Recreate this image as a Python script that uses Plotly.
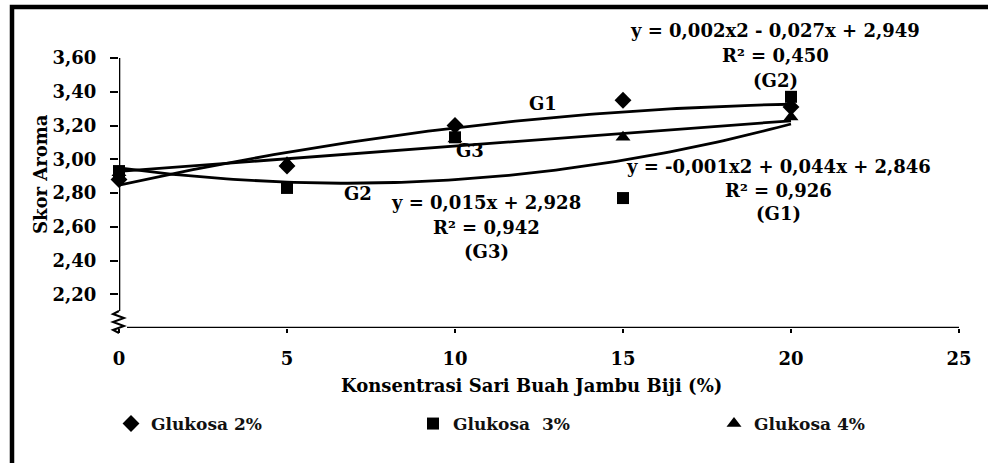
import numpy as np
import plotly.graph_objects as go

# Concentration of guava juice (%)
konsentrasi = [0, 5, 10, 15, 20]

# Aroma scores per glucose level
glukosa_2 = [2.88, 2.96, 3.20, 3.35, 3.31]
glukosa_3 = [2.93, 2.83, 3.13, 2.77, 3.37]
glukosa_4 = [2.92, 2.98, 3.12, 3.13, 3.25]

series_names = ["Glukosa 2%", "Glukosa  3%", "Glukosa 4%"]

# Trendline coefficients (highest power first) as stated on the chart
coef_g1 = [-0.001, 0.044, 2.846]
coef_g2 = [0.002, -0.027, 2.949]
coef_g3 = [0.015, 2.928]

x_ticks = [0, 5, 10, 15, 20, 25]
y_ticks = [2.2, 2.4, 2.6, 2.8, 3.0, 3.2, 3.4, 3.6]

W, H = 988, 463
ML, MR, MT, MB = 119, 29, 58, 135
PW, PH = W - ML - MR, H - MT - MB
XMIN, XMAX = 0, 25
YMIN, YMAX = 2.0, 3.6

FONT = "DejaVu Serif"
INK = "#000000"


def px_x(px):
    return (px - ML) / PW


def px_y(py):
    return (H - MB - py) / PH


def dx(px):
    return XMIN + (px - ML) / PW * (XMAX - XMIN)


def dy(py):
    return YMIN + (H - MB - py) / PH * (YMAX - YMIN)


fig = go.Figure()

# each series gets its own one-item legend so the entries can be spaced freely
markers = [
    (glukosa_2, "diamond", 13, "legend"),
    (glukosa_3, "square", 12, "legend2"),
    (glukosa_4, "triangle-up", 13, "legend3"),
]
for name, (vals, sym, size, leg) in zip(series_names, markers):
    fig.add_trace(go.Scatter(
        x=konsentrasi, y=vals, mode="markers", name=name, legend=leg,
        marker=dict(symbol=sym, size=size, color=INK, line=dict(width=0)),
        cliponaxis=False,
    ))

xs = np.linspace(konsentrasi[0], konsentrasi[-1], 101)
for coef in (coef_g1, coef_g2, coef_g3):
    fig.add_trace(go.Scatter(
        x=xs, y=np.polyval(coef, xs), mode="lines", showlegend=False,
        line=dict(color=INK, width=2.8), hoverinfo="skip", cliponaxis=False,
    ))

annotations = []


def label(text, cx, cy, size=18):
    annotations.append(dict(
        x=px_x(cx), y=px_y(cy), xref="paper", yref="paper", text=text,
        showarrow=False, xanchor="center", yanchor="middle",
        font=dict(family=FONT, size=size, color=INK, weight="bold"),
    ))


# equation blocks
label("y = 0,002x2 - 0,027x + 2,949", 775, 30)
label("R² = 0,450", 775, 55)
label("(G2)", 775, 80)

label("y = -0,001x2 + 0,044x + 2,846", 778, 166)
label("R² = 0,926", 778, 190)
label("(G1)", 778, 213)

label("y = 0,015x + 2,928", 486, 203)
label("R² = 0,942", 486, 227)
label("(G3)", 486, 251)

# curve names
label("G1", 543, 103)
label("G3", 470, 150)
label("G2", 358, 193)

# y-axis title
annotations.append(dict(
    x=px_x(40), y=px_y(174), xref="paper", yref="paper", text="Skor Aroma",
    showarrow=False, textangle=-90, xanchor="center", yanchor="middle",
    font=dict(family=FONT, size=18, color=INK, weight="bold"),
))
# x-axis title
annotations.append(dict(
    x=px_x(531), y=px_y(385), xref="paper", yref="paper",
    text="Konsentrasi Sari Buah Jambu Biji (%)",
    showarrow=False, xanchor="center", yanchor="middle",
    font=dict(family=FONT, size=18, color=INK, weight="bold"),
))

# axis break zigzag, pixel points converted to paper units
zig_px = [(119, 311), (113, 314), (124, 318), (113, 322), (124, 326), (113, 330), (119, 333)]
zig_path = "M " + " L ".join(f"{px_x(a):.5f} {px_y(b):.5f}" for a, b in zig_px)

shapes = [
    # outer frame
    dict(type="rect", xref="paper", yref="paper",
         x0=px_x(12), x1=px_x(1000), y0=px_y(7), y1=px_y(480),
         line=dict(color=INK, width=4.5), fillcolor="rgba(0,0,0,0)", layer="below"),
    # y-axis line down to the break
    dict(type="line", xref="x", yref="y", x0=0, x1=0, y0=YMAX, y1=dy(311),
         line=dict(color=INK, width=2.6)),
    # x-axis line starting after the break
    dict(type="line", xref="x", yref="y", x0=dx(127), x1=XMAX, y0=YMIN, y1=YMIN,
         line=dict(color=INK, width=2.6)),
    dict(type="path", xref="paper", yref="paper", path=zig_path,
         line=dict(color=INK, width=2)),
]


def legend_at(marker_px, row_px):
    return dict(
        orientation="h", x=px_x(marker_px - 17), y=px_y(row_px - 17),
        xanchor="left", yanchor="top",
        font=dict(family=FONT, size=17, color="#111111", weight="bold"),
        bgcolor="rgba(0,0,0,0)", itemclick=False, itemdoubleclick=False,
    )


fig.update_layout(
    width=W, height=H,
    margin=dict(l=ML, r=MR, t=MT, b=MB, autoexpand=False),
    paper_bgcolor="white", plot_bgcolor="white",
    separators=",.",
    font=dict(family=FONT, size=18, color=INK, weight="bold"),
    showlegend=True,
    legend=legend_at(128, 423),
    legend2=legend_at(430, 423),
    legend3=legend_at(731, 423),
    annotations=annotations,
    shapes=shapes,
    xaxis=dict(
        range=[XMIN, XMAX], tickvals=x_ticks, tickformat="d",
        showgrid=False, zeroline=False, showline=False,
        ticks="outside", ticklen=4, tickwidth=2, tickcolor=INK,
        ticklabelstandoff=10,
        tickfont=dict(family=FONT, size=18, color=INK, weight="bold"),
    ),
    yaxis=dict(
        range=[YMIN, YMAX], tickvals=y_ticks, tickformat=".2f",
        showgrid=False, zeroline=False, showline=False,
        ticks="outside", ticklen=8, tickwidth=2, tickcolor=INK,
        ticklabelstandoff=10,
        tickfont=dict(family=FONT, size=18, color=INK, weight="bold"),
    ),
)

fig.write_html("out.html")
